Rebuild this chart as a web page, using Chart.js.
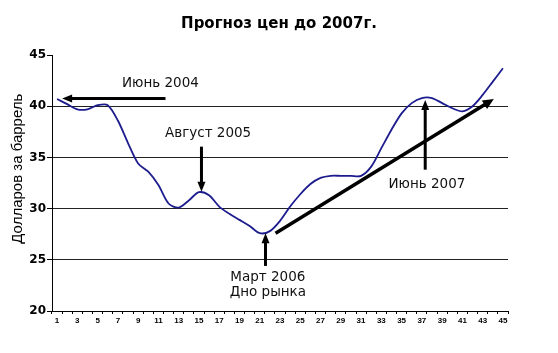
<!DOCTYPE html>
<html>
<head>
<meta charset="utf-8">
<script src="https://cdn.jsdelivr.net/npm/chart.js@4.4.0/dist/chart.umd.min.js"></script>
<style>
    html, body { margin: 0; padding: 0; background: #fff; }
</style>
</head>
<body>
<canvas id="price-chart" width="558" height="353"></canvas>
<script>
const chartTitle = "Прогноз цен до 2007г.";
const yAxisTitle = "Долларов за баррель";

const periods = [1, 2, 3, 4, 5, 6, 7, 8, 9, 10, 11, 12, 13, 14, 15, 16, 17, 18, 19, 20, 21, 22, 23,
    24, 25, 26, 27, 28, 29, 30, 31, 32, 33, 34, 35, 36, 37, 38, 39, 40, 41, 42, 43, 44, 45];
const prices = [40.7, 40.2, 39.7, 39.7, 40.1, 40.1, 38.6, 36.4, 34.4, 33.6, 32.3, 30.5, 30.1, 30.8, 31.6,
    31.3, 30.2, 29.5, 28.9, 28.3, 27.6, 27.8, 28.8, 30.2, 31.4, 32.4, 33.0, 33.2, 33.2, 33.2,
    33.2, 34.1, 35.9, 37.7, 39.3, 40.3, 40.8, 40.8, 40.3, 39.8, 39.5, 40.0, 41.1, 42.4, 43.7];
const yMin = 20;
const yMax = 45;
const yStep = 5;

// callout texts, placed in data units (category index, price)
const calloutLabels = ["Июнь 2004", "Август 2005", "Март 2006", "Дно рынка", "Июнь 2007"];
const calloutX = [10.2, 14.9, 20.8, 20.8, 36.5];
const calloutY = [42.2, 37.3, 23.3, 21.85, 32.4];

// arrows, tail -> tip, in data units
const arrowFromX = [10.7, 14.25, 20.57, 21.56, 36.33];
const arrowFromY = [40.75, 36.05, 24.4, 27.6, 33.8];
const arrowToX = [0.5, 14.25, 20.57, 43.1, 36.33];
const arrowToY = [40.75, 31.65, 27.6, 40.7, 40.6];

window.onload = createPriceChart;

function drawArrow(ctx, x1, y1, x2, y2, width, headLength, headHalf) {
    const angle = Math.atan2(y2 - y1, x2 - x1);
    const bx = x2 - Math.cos(angle) * headLength;
    const by = y2 - Math.sin(angle) * headLength;
    ctx.lineWidth = width;
    ctx.lineCap = "butt";
    ctx.beginPath();
    ctx.moveTo(x1, y1);
    ctx.lineTo(bx + Math.cos(angle) * 1, by + Math.sin(angle) * 1);
    ctx.stroke();
    ctx.beginPath();
    ctx.moveTo(x2, y2);
    ctx.lineTo(bx - Math.sin(angle) * headHalf, by + Math.cos(angle) * headHalf);
    ctx.lineTo(bx + Math.sin(angle) * headHalf, by - Math.cos(angle) * headHalf);
    ctx.closePath();
    ctx.fill();
}

const calloutsPlugin = {
    id: "callouts",
    afterDatasetsDraw: function(chart) {
        const ctx = chart.ctx;
        const xScale = chart.scales.x;
        const yScale = chart.scales.y;
        ctx.save();
        ctx.strokeStyle = "#000";
        ctx.fillStyle = "#000";
        for (let i = 0; i < arrowFromX.length; i++) {
            const x1 = xScale.getPixelForValue(arrowFromX[i]);
            const y1 = yScale.getPixelForValue(arrowFromY[i]);
            const x2 = xScale.getPixelForValue(arrowToX[i]);
            const y2 = yScale.getPixelForValue(arrowToY[i]);
            const diagonal = x1 !== x2 && y1 !== y2;
            drawArrow(ctx, x1, y1, x2, y2, diagonal ? 3.5 : 3, diagonal ? 11 : 10, diagonal ? 5 : 4);
        }
        ctx.font = "13.5px 'DejaVu Sans'";
        ctx.textAlign = "center";
        ctx.textBaseline = "middle";
        ctx.fillStyle = "#111";
        calloutLabels.forEach((text, i) => {
            ctx.fillText(text, xScale.getPixelForValue(calloutX[i]), yScale.getPixelForValue(calloutY[i]));
        });

        // y axis title
        ctx.translate(18, yScale.getPixelForValue(33.9));
        ctx.rotate(-Math.PI / 2);
        ctx.font = "15px 'Liberation Sans'";
        ctx.fillStyle = "#000";
        ctx.fillText(yAxisTitle, 0, 0);
        ctx.restore();
    }
};

function createPriceChart() {
    const ctx = document.querySelector("#price-chart");
    const data = {
        labels: periods,
        datasets: [{
            label: "Цена",
            data: prices,
            borderColor: "#1c1c8e",
            borderWidth: 1.8,
            tension: 0.3,
            pointRadius: 0,
            fill: false
        }]
    };
    const options = {
        responsive: false,
        animation: false,
        layout: {
            padding: 0
        },
        plugins: {
            legend: { display: false },
            tooltip: { enabled: false },
            title: {
                display: true,
                text: chartTitle,
                color: "#000",
                font: { family: "DejaVu Sans", size: 15, weight: "bold" },
                padding: { top: 15, bottom: 22 }
            }
        },
        scales: {
            x: {
                type: "category",
                offset: true,
                grid: {
                    offset: true,
                    drawOnChartArea: false,
                    tickLength: 3,
                    color: "#000"
                },
                border: { color: "#000", width: 1 },
                ticks: {
                    autoSkip: false,
                    maxRotation: 0,
                    padding: 2,
                    color: "#000",
                    font: { family: "Liberation Sans", size: 8, weight: "bold" },
                    callback: (value, index) => index % 2 === 0 ? periods[index] : ""
                },
                afterFit: scale => { scale.height = 42; }
            },
            y: {
                min: yMin,
                max: yMax,
                ticks: {
                    stepSize: yStep,
                    padding: 1,
                    color: "#000",
                    font: { family: "DejaVu Sans", size: 12, weight: "bold" }
                },
                grid: {
                    tickLength: 5,
                    tickColor: "#000",
                    color: c => (c.tick && (c.tick.value === yMin || c.tick.value === yMax)) ? "rgba(0,0,0,0)" : "#222"
                },
                border: { color: "#000", width: 1 },
                afterFit: scale => { scale.width = 52; }
            },
            // empty right-hand space, keeps the title centred on the whole picture
            spacer: {
                type: "linear",
                position: "right",
                ticks: { display: false },
                grid: { display: false },
                border: { display: false },
                afterFit: scale => { scale.width = 50; }
            }
        }
    };
    const config = {
        type: "line",
        data: data,
        options: options,
        plugins: [calloutsPlugin]
    };
    const chartStatus = Chart.getChart("price-chart");
    if (chartStatus != undefined) {
        chartStatus.destroy();
    }
    const lineChart = new Chart(ctx, config);
}
</script>
</body>
</html>
